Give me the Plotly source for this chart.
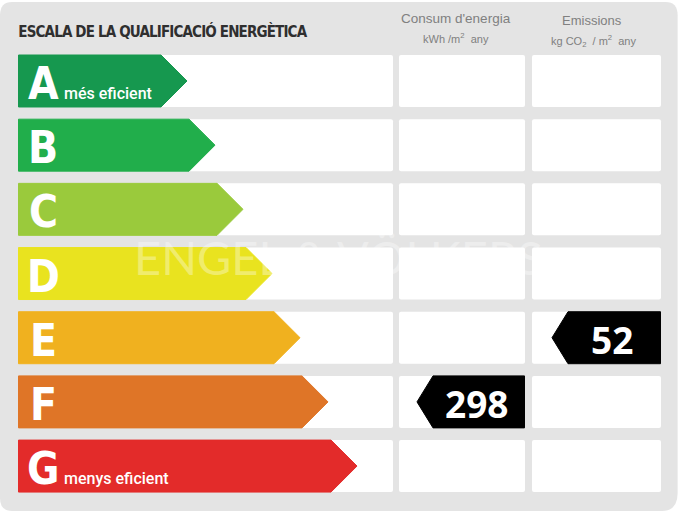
"""
Escala de la qualificació energètica
"""
import plotly.graph_objects as go

# Dades
grades = ["A", "B", "C", "D", "E", "F", "G"]
grade_notes = {"A": "més eficient", "G": "menys eficient"}
grade_colors = ["#16984f", "#21ae4b", "#9aca3c", "#e9e31f", "#f0b11f", "#df7527", "#e32b2a"]
arrow_lengths = [169, 197, 225, 254, 282, 310, 339]
consum_value = 298
consum_grade = "F"
emissions_value = 52
emissions_grade = "E"

TITLE = "ESCALA DE LA QUALIFICACIÓ ENERGÈTICA"
NARROW = "DejaVu Sans Condensed"
SANS = "Liberation Sans"
BAR_H = 0.81
HEAD = 26


def row_of(grade):
    return grades.index(grade)


def arrow_right(start, length, row):
    # fletxa cap a la dreta
    h = BAR_H / 2
    end = start + length
    return ([start, end - HEAD, end, end - HEAD, start, start],
            [row - h, row - h, row, row + h, row + h, row - h])


def arrow_left(tip, end, row):
    # fletxa cap a l'esquerra (valor)
    h = BAR_H / 2
    return ([end, tip + 16, tip, tip + 16, end, end],
            [row - h, row - h, row, row + h, row + h, row - h])


fig = go.Figure()

# Caselles blanques
rows = list(range(len(grades)))
for base, width in [(18, 375), (399, 126), (532, 129)]:
    fig.add_trace(go.Bar(
        y=rows, x=[width] * len(rows), base=base, orientation="h", width=BAR_H,
        marker=dict(color="white", line=dict(width=0), cornerradius=2),
        hoverinfo="skip", showlegend=False
    ))

# Fletxes de colors
for i, grade in enumerate(grades):
    xs, ys = arrow_right(18.5, arrow_lengths[i] - 0.5, i)
    fig.add_trace(go.Scatter(
        x=xs, y=ys, mode="lines", fill="toself", fillcolor=grade_colors[i],
        line=dict(color=grade_colors[i], width=1), name=grade, showlegend=False
    ))

# Valors
for tip, end, grade, value in [(417, 525, consum_grade, consum_value),
                               (552, 661, emissions_grade, emissions_value)]:
    xs, ys = arrow_left(tip, end - 0.5, row_of(grade))
    fig.add_trace(go.Scatter(
        x=xs, y=ys, mode="lines", fill="toself", fillcolor="black",
        line=dict(color="black", width=1), showlegend=False
    ))
    fig.add_annotation(
        x=(tip + 16 + end) / 2 - 3, y=row_of(grade) + 0.02, text=f"<b>{value}</b>", showarrow=False,
        font=dict(family="Open Sans", size=37, color="white")
    )

# Lletres
for i, grade in enumerate(grades):
    fig.add_annotation(
        x=43, y=i + 0.04, text=f"<b>{grade}</b>", showarrow=False,
        font=dict(family=NARROW, size=44, color="white")
    )
    if grade in grade_notes:
        fig.add_annotation(
            x=61.5, y=i + 0.2, text=grade_notes[grade], showarrow=False, xanchor="left",
            font=dict(family="Roboto", size=16, weight=500, color="white")
        )

# Capçaleres
fig.add_annotation(x=162.5, y=-0.77, text=f"<b>{TITLE}</b>", showarrow=False,
                   font=dict(family=NARROW, size=15, color="#2f2f2f"))
fig.add_annotation(x=456, y=-0.98, text="Consum d'energia", showarrow=False,
                   font=dict(family=SANS, size=13.5, color="#808080"))
fig.add_annotation(x=456, y=-0.67, text="kWh /m<sup>2</sup>  any", showarrow=False,
                   font=dict(family=SANS, size=11, color="#808080"))
fig.add_annotation(x=592, y=-0.95, text="Emissions", showarrow=False,
                   font=dict(family=SANS, size=13, color="#808080"))
fig.add_annotation(x=593, y=-0.62, text="kg CO<sub>2</sub>  / m<sup>2</sup>  any", showarrow=False,
                   font=dict(family=SANS, size=11, color="#808080"))

# Marca d'aigua
fig.add_annotation(x=338, y=2.75, text="ENGEL &amp; VÖLKERS", showarrow=False,
                   font=dict(family="Lato", size=47, color="rgba(255,255,255,0.35)"))

# Fons gris arrodonit
fig.add_shape(
    type="path", layer="below", line=dict(width=0), fillcolor="#e4e4e4",
    xref="paper", yref="paper",
    path="M 0.018 0.996 L 0.98 0.996 Q 0.998 0.996 0.998 0.97 L 0.998 0.035 "
         "Q 0.998 0 0.975 0 L 0.018 0 Q 0 0 0 0.025 L 0 0.97 Q 0 0.996 0.018 0.996 Z"
)

fig.update_layout(
    width=679, height=511, margin=dict(l=0, r=0, t=0, b=0),
    barmode="overlay", plot_bgcolor="white", paper_bgcolor="white", showlegend=False,
    xaxis=dict(range=[0, 679], visible=False, fixedrange=True),
    yaxis=dict(range=[6.70, -1.262], visible=False, fixedrange=True)
)

# el títol és més estret a l'original
post = """
document.body.style.margin='0';
document.querySelectorAll('.annotation-text').forEach(function (t) {
    if (t.textContent.indexOf('ESCALA') === 0) { t.style.letterSpacing = '-0.85px'; }
});
"""
fig.write_html("out.html", config={"displayModeBar": False}, post_script=post)
